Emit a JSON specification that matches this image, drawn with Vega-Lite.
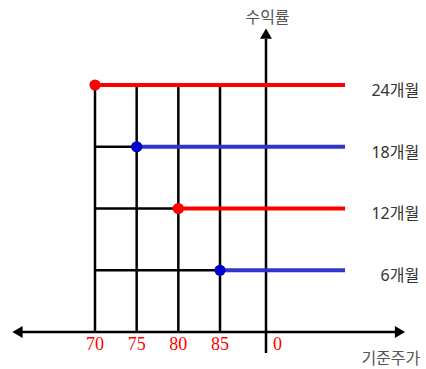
{
  "$schema": "https://vega.github.io/schema/vega-lite/v6.json",
  "width": 426,
  "height": 369,
  "padding": 0,
  "autosize": {"type": "fit", "contains": "padding"},
  "config": {"view": {"stroke": null}},
  "resolve": {"scale": {"color": "independent"}},
  "datasets": {
    "segs": [
      {"x": 70, "x2": 70, "y": 0, "y2": 4},
      {"x": 75, "x2": 75, "y": 0, "y2": 4},
      {"x": 80, "x2": 80, "y": 0, "y2": 4},
      {"x": 85, "x2": 85, "y": 0, "y2": 4},
      {"x": 70, "x2": 75, "y": 3, "y2": 3},
      {"x": 70, "x2": 80, "y": 2, "y2": 2},
      {"x": 70, "x2": 85, "y": 1, "y2": 1},
      {"x": 61.2, "x2": 106.2, "y": 0, "y2": 0},
      {"x": 90.52, "x2": 90.52, "y": -0.34, "y2": 4.75}
    ],
    "series": [
      {"label": "24개월", "start": 70, "end": 100, "y": 4, "kind": "r"},
      {"label": "18개월", "start": 75, "end": 100, "y": 3, "kind": "b"},
      {"label": "12개월", "start": 80, "end": 100, "y": 2, "kind": "r"},
      {"label": "6개월", "start": 85, "end": 100, "y": 1, "kind": "b"}
    ],
    "arrows": [
      {"x": 60.7, "y": 0, "dir": "left"},
      {"x": 106.6, "y": 0, "dir": "right"},
      {"x": 90.52, "y": 4.83, "dir": "up"}
    ],
    "ticks": [
      {"x": 70, "label": "70"},
      {"x": 75, "label": "75"},
      {"x": 80, "label": "80"},
      {"x": 85, "label": "85"},
      {"x": 91.9, "label": "0"}
    ]
  },
  "layer": [
    {
      "data": {"name": "segs"},
      "mark": {"type": "rule", "color": "black", "strokeWidth": 2.5},
      "encoding": {
        "x": {"field": "x", "type": "quantitative", "scale": {"domain": [58.6, 109.72], "nice": false, "zero": false}, "axis": null},
        "x2": {"field": "x2"},
        "y": {"field": "y", "type": "quantitative", "scale": {"domain": [-0.599, 5.376], "nice": false, "zero": false}, "axis": null},
        "y2": {"field": "y2"}
      }
    },
    {
      "data": {"name": "series"},
      "mark": {"type": "rule", "strokeWidth": 4},
      "encoding": {
        "x": {"field": "start", "type": "quantitative"},
        "x2": {"field": "end"},
        "y": {"field": "y", "type": "quantitative"},
        "color": {"field": "kind", "type": "nominal", "scale": {"domain": ["r", "b"], "range": ["#ff0000", "#3333cc"]}, "legend": null}
      }
    },
    {
      "data": {"name": "series"},
      "mark": {"type": "point", "filled": true, "size": 125, "opacity": 1},
      "encoding": {
        "x": {"field": "start", "type": "quantitative"},
        "y": {"field": "y", "type": "quantitative"},
        "fill": {"field": "kind", "type": "nominal", "scale": {"domain": ["r", "b"], "range": ["#ff0000", "#0000cc"]}, "legend": null}
      }
    },
    {
      "data": {"name": "series"},
      "mark": {"type": "text", "align": "right", "baseline": "middle", "dy": 6, "fontSize": 16, "font": "Noto Sans, Noto Sans CJK KR, sans-serif", "color": "#333333"},
      "encoding": {
        "x": {"datum": 108.9, "type": "quantitative"},
        "y": {"field": "y", "type": "quantitative"},
        "text": {"field": "label"}
      }
    },
    {
      "data": {"name": "arrows"},
      "mark": {"type": "point", "filled": true, "size": 140, "color": "black", "opacity": 1},
      "encoding": {
        "x": {"field": "x", "type": "quantitative"},
        "y": {"field": "y", "type": "quantitative"},
        "shape": {"field": "dir", "type": "nominal", "scale": {"domain": ["left", "right", "up"], "range": ["triangle-left", "triangle-right", "triangle-up"]}, "legend": null}
      }
    },
    {
      "data": {"name": "ticks"},
      "mark": {"type": "text", "align": "center", "baseline": "middle", "fontSize": 18, "font": "Liberation Serif", "color": "#ff0000"},
      "encoding": {
        "x": {"field": "x", "type": "quantitative"},
        "y": {"datum": -0.21, "type": "quantitative"},
        "text": {"field": "label"}
      }
    },
    {
      "data": {"values": [{"label": "수익률", "x": 90.7, "y": 5.085}, {"label": "기준주가", "x": 105.5, "y": -0.43}]},
      "mark": {"type": "text", "align": "center", "baseline": "middle", "fontSize": 16, "font": "Noto Sans CJK KR, sans-serif", "color": "#555555"},
      "encoding": {
        "x": {"field": "x", "type": "quantitative"},
        "y": {"field": "y", "type": "quantitative"},
        "text": {"field": "label"}
      }
    }
  ]
}
